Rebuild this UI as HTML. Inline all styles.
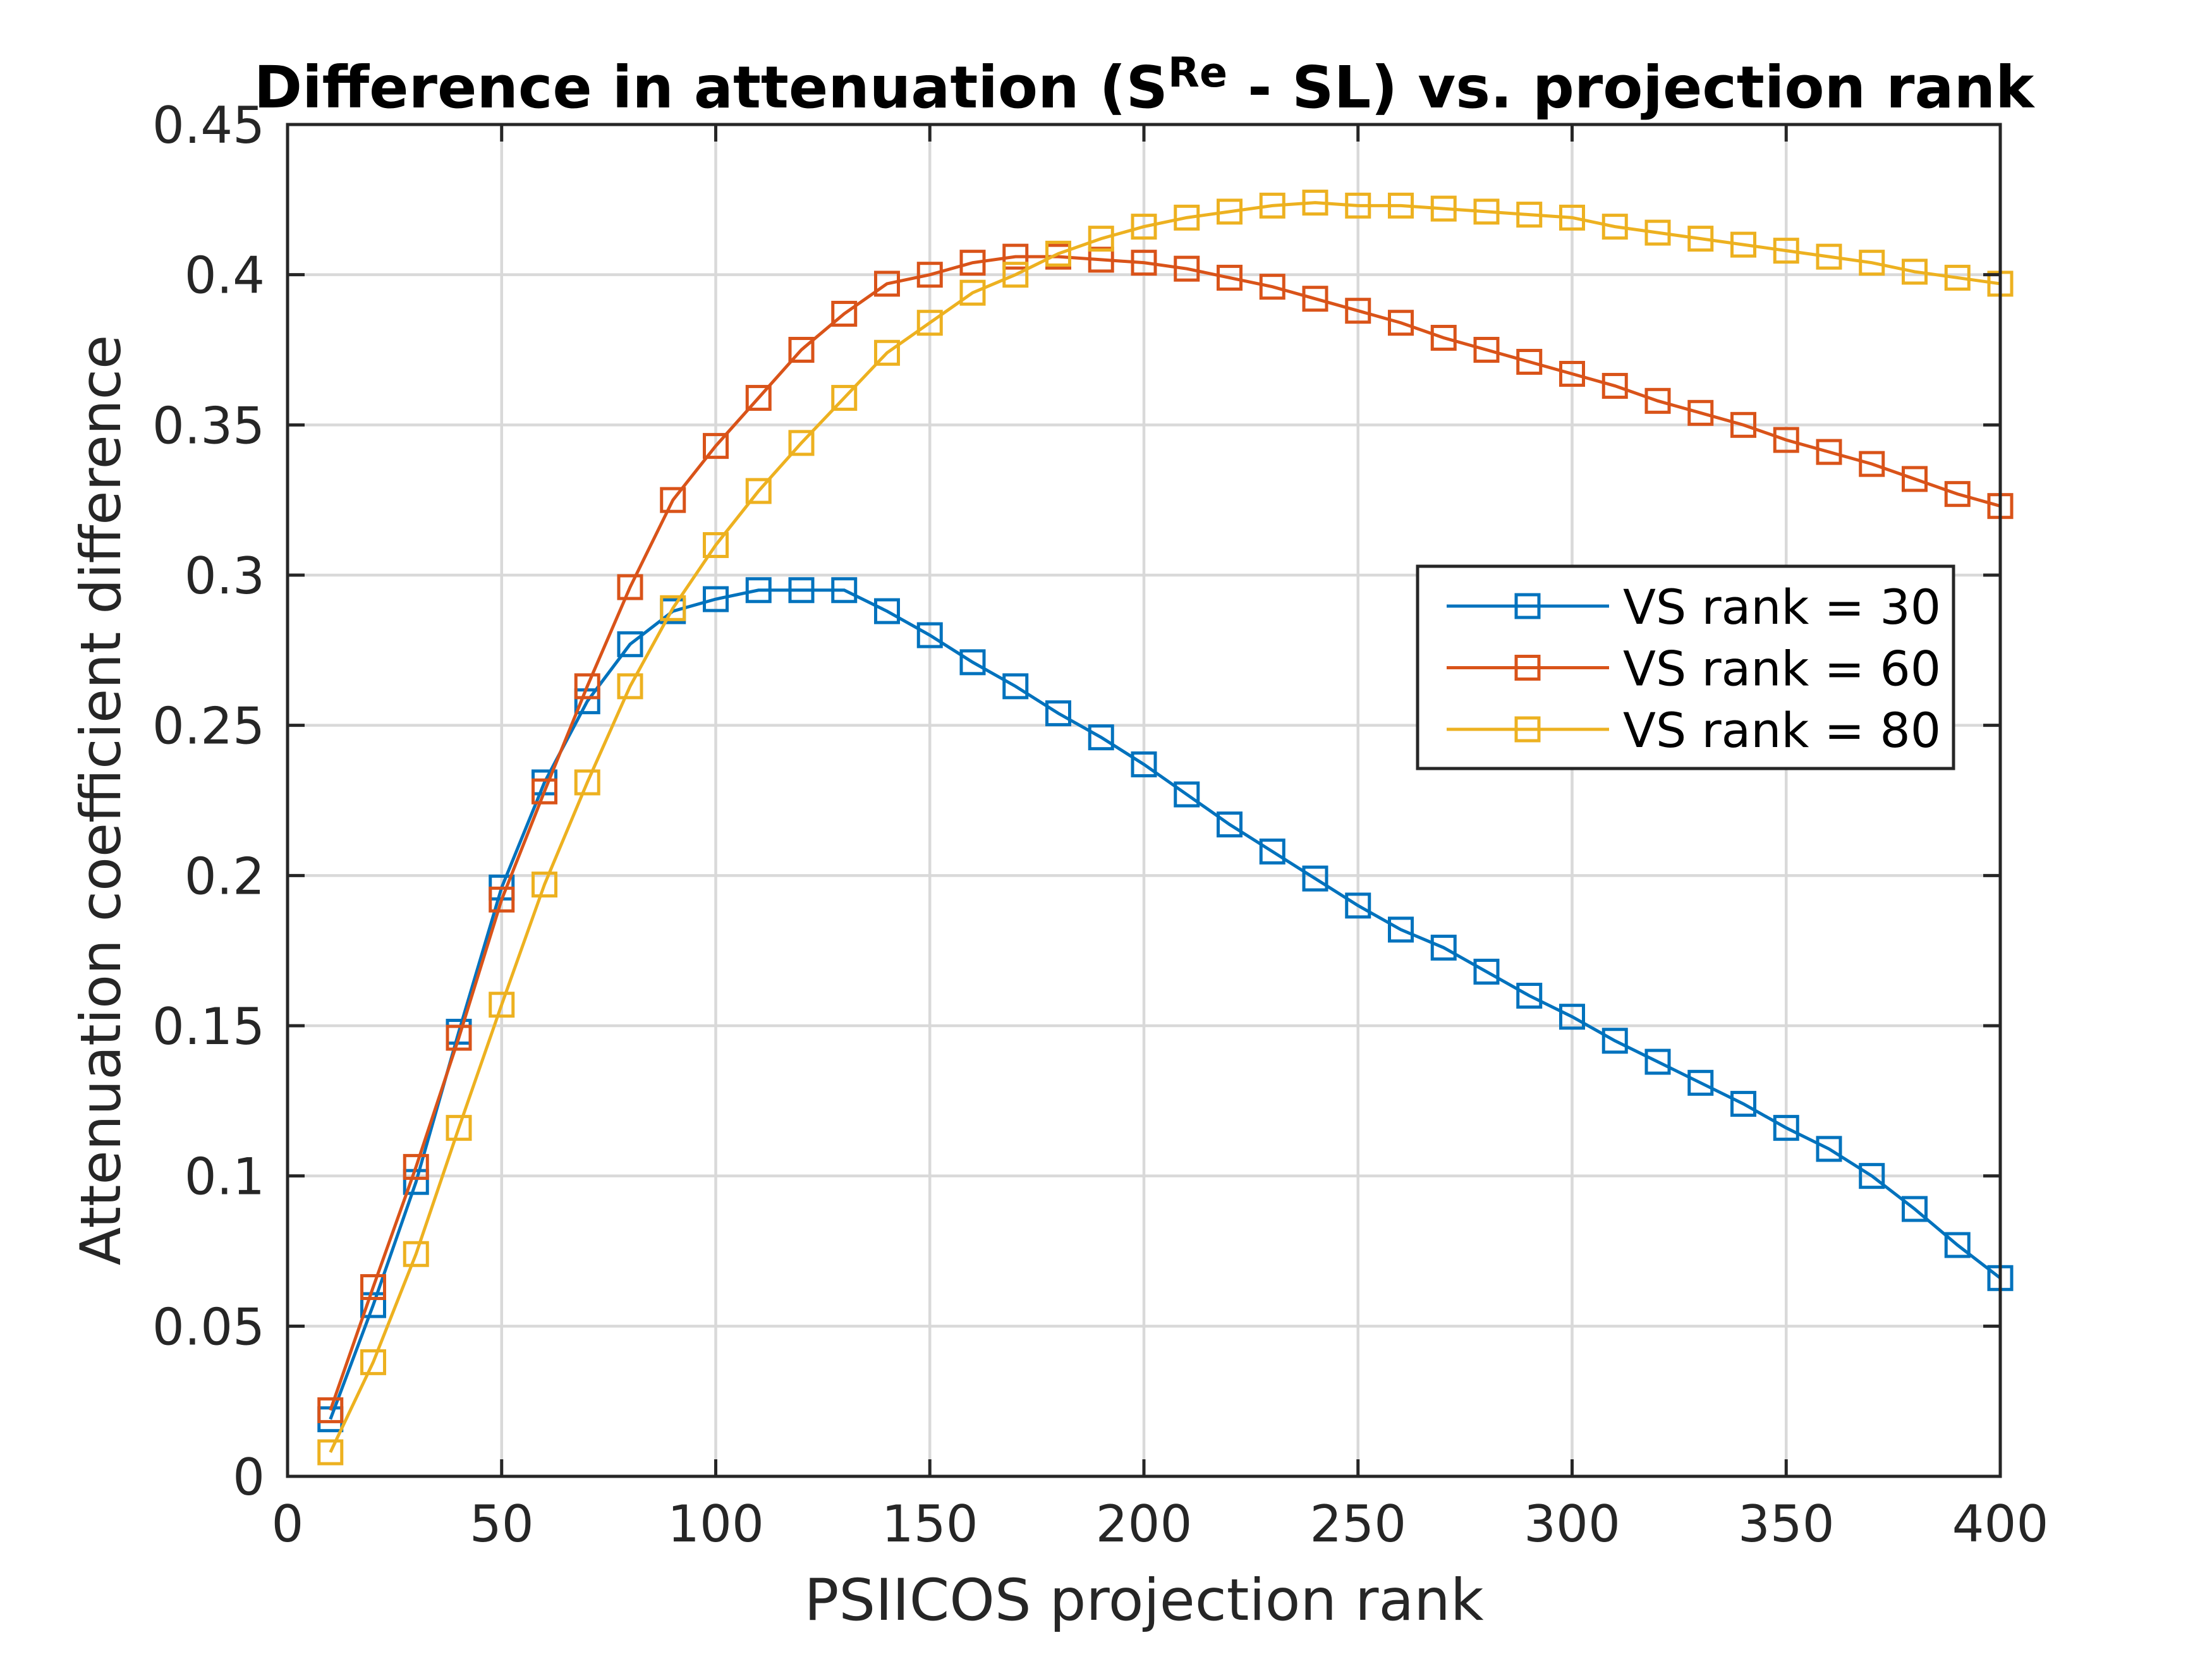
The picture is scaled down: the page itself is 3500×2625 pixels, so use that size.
<!DOCTYPE html>
<html><head><meta charset="utf-8"><style>html,body{margin:0;padding:0;background:#fff}svg{display:block}text{font-family:"DejaVu Sans","Liberation Sans",sans-serif}</style></head>
<body>
<svg id="chart" width="3500" height="2625" viewBox="0 0 3500 2625" xmlns="http://www.w3.org/2000/svg">
<rect width="3500" height="2625" fill="#fff"/>
<g id="grid"></g>
<g id="series"></g>
<g id="axes"></g>
<text x="1810" y="170" text-anchor="middle" font-size="92" font-weight="bold" fill="#000">Difference in attenuation (S<tspan dy="-33" font-size="65">Re</tspan><tspan dy="33"> - SL) vs. projection rank</tspan></text>
<text x="1810" y="2563" text-anchor="middle" font-size="91" fill="#262626">PSIICOS projection rank</text>
<text transform="translate(190,1266) rotate(-90)" text-anchor="middle" font-size="88" fill="#262626">Attenuation coefficient difference</text>
<g>
<rect x="2243" y="896" width="848" height="320" fill="#fff" stroke="#262626" stroke-width="5"/>
<g id="legend-entries"></g>
</g>
</svg>
<script>
const xValues=[10,20,30,40,50,60,70,80,90,100,110,120,130,140,150,160,170,180,190,200,210,220,230,240,250,260,270,280,290,300,310,320,330,340,350,360,370,380,390,400];
const vs30=[0.019,0.057,0.098,0.148,0.196,0.231,0.258,0.277,0.288,0.292,0.295,0.295,0.295,0.288,0.280,0.271,0.263,0.254,0.246,0.237,0.227,0.217,0.208,0.199,0.190,0.182,0.176,0.168,0.160,0.153,0.145,0.138,0.131,0.124,0.116,0.109,0.100,0.089,0.077,0.066];
const vs60=[0.022,0.063,0.103,0.146,0.192,0.228,0.263,0.296,0.325,0.343,0.359,0.375,0.387,0.397,0.400,0.404,0.406,0.406,0.405,0.404,0.402,0.399,0.396,0.392,0.388,0.384,0.379,0.375,0.371,0.367,0.363,0.358,0.354,0.350,0.345,0.341,0.337,0.332,0.327,0.323];
const vs80=[0.008,0.038,0.074,0.116,0.157,0.197,0.231,0.263,0.289,0.310,0.328,0.344,0.359,0.374,0.384,0.394,0.400,0.407,0.412,0.416,0.419,0.421,0.423,0.424,0.423,0.423,0.422,0.421,0.420,0.419,0.416,0.414,0.412,0.410,0.408,0.406,0.404,0.401,0.399,0.397];
const seriesNames=["VS rank = 30","VS rank = 60","VS rank = 80"];
const xTicks=[0,50,100,150,200,250,300,350,400];
const yTicks=[0,0.05,0.1,0.15,0.2,0.25,0.3,0.35,0.4,0.45];
const yTickLabels=["0","0.05","0.1","0.15","0.2","0.25","0.3","0.35","0.4","0.45"];

const NS="http://www.w3.org/2000/svg";
const X0=455,X1=3165,Y0=2336,Y1=197;
const sx=v=>X0+(v-0)/(400-0)*(X1-X0);
const sy=v=>Y0-(v-0)/(0.45-0)*(Y0-Y1);
function mk(tag,attrs,parent){const e=document.createElementNS(NS,tag);for(const k in attrs)e.setAttribute(k,attrs[k]);parent.appendChild(e);return e;}
const grid=document.getElementById('grid'),axes=document.getElementById('axes'),sg=document.getElementById('series');
xTicks.forEach((t,i)=>{
  const g=mk('line',{x1:sx(t),x2:sx(t),y1:Y1,y2:Y0,stroke:'#d9d9d9','stroke-width':4.5},grid);
  
  
  const a=mk('line',{x1:sx(t),x2:sx(t),y1:Y0,y2:Y0-27,stroke:'#262626','stroke-width':5},axes);
  
  
  const b=mk('line',{x1:sx(t),x2:sx(t),y1:Y1,y2:Y1+27,stroke:'#262626','stroke-width':5},axes);
  
  
  const tx=mk('text',{x:sx(t),y:Y0+103,'text-anchor':'middle','font-size':80,fill:'#262626'},axes);
  tx.textContent=String(t);
  
  
});
yTicks.forEach((t,i)=>{
  const g=mk('line',{x1:X0,x2:X1,y1:sy(t),y2:sy(t),stroke:'#d9d9d9','stroke-width':4.5},grid);
  
  
  const a=mk('line',{x1:X0,x2:X0+27,y1:sy(t),y2:sy(t),stroke:'#262626','stroke-width':5},axes);
  
  
  const b=mk('line',{x1:X1,x2:X1-27,y1:sy(t),y2:sy(t),stroke:'#262626','stroke-width':5},axes);
  
  
  const tx=mk('text',{x:X0-36,y:sy(t)+29,'text-anchor':'end','font-size':80,fill:'#262626'},axes);
  tx.textContent=yTickLabels[i];
  
  
});
const frame=mk('rect',{x:X0,y:Y1,width:X1-X0,height:Y0-Y1,fill:'none',stroke:'#262626','stroke-width':5},axes);



const colors=['#0072BD','#D95319','#EDB120'];
const allSeries=[vs30,vs60,vs80];
const M=36;
allSeries.forEach((ys,si)=>{
  const g=mk('g',{},sg);
  
  
  const pl=mk('polyline',{points:ys.map((v,i)=>sx(xValues[i])+','+sy(v)).join(' '),fill:'none',stroke:colors[si],'stroke-width':5},g);
  
  
  ys.forEach((v,i)=>{
    const r=mk('rect',{x:sx(xValues[i])-M/2,y:sy(v)-M/2,width:M,height:M,fill:'none',stroke:colors[si],'stroke-width':5},g);
    
    
  });
});
const le=document.getElementById('legend-entries');
seriesNames.forEach((n,i)=>{
  const y=959+i*97.5;
  const l=mk('line',{x1:2289,x2:2546,y1:y,y2:y,stroke:colors[i],'stroke-width':5},le);
  
  
  const r=mk('rect',{x:2417-M/2,y:y-M/2,width:M,height:M,fill:'none',stroke:colors[i],'stroke-width':5},le);
  
  
  const t=mk('text',{x:2568,y:y+28,'font-size':76,fill:'#000'},le);
  t.textContent=n;
  
  
});
</script>
</body></html>
